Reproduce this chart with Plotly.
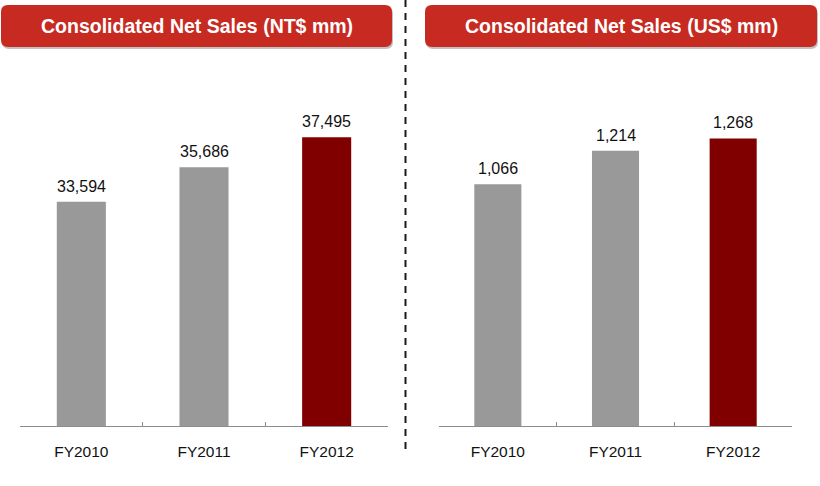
import plotly.graph_objects as go

categories = ["FY2010", "FY2011", "FY2012"]
ntd_values = [33594, 35686, 37495]
usd_values = [1066, 1214, 1268]
ntd_labels = ["33,594", "35,686", "37,495"]
usd_labels = ["1,066", "1,214", "1,268"]
bar_colors = ["#999999", "#999999", "#800000"]
titles = ["Consolidated Net Sales (NT$ mm)", "Consolidated Net Sales (US$ mm)"]

W, H = 820, 486
FONT = "Liberation Sans, Arial, sans-serif"

def px_x(p):
    return p / W

def px_y(p):
    return 1 - p / H

fig = go.Figure()
fig.add_trace(go.Bar(x=categories, y=ntd_values, marker_color=bar_colors,
                     marker_line_width=0, xaxis="x", yaxis="y",
                     hoverinfo="skip"))
fig.add_trace(go.Bar(x=categories, y=usd_values, marker_color=bar_colors,
                     marker_line_width=0, xaxis="x2", yaxis="y2",
                     hoverinfo="skip"))

annotations = []
for c, v, t in zip(categories, ntd_values, ntd_labels):
    annotations.append(dict(x=c, y=v, xref="x", yref="y", text=t, showarrow=False,
                            yanchor="bottom", yshift=5,
                            font=dict(family=FONT, size=16, color="#111111")))
for c, v, t in zip(categories, usd_values, usd_labels):
    annotations.append(dict(x=c, y=v, xref="x2", yref="y2", text=t, showarrow=False,
                            yanchor="bottom", yshift=5,
                            font=dict(family=FONT, size=16, color="#111111")))

def rounded_path(x0, y0, x1, y1, r=7):
    # pixel coords -> paper path with rounded corners
    X = lambda p: f"{px_x(p):.5f}"
    Y = lambda p: f"{px_y(p):.5f}"
    return (f"M {X(x0 + r)},{Y(y0)} L {X(x1 - r)},{Y(y0)} "
            f"Q {X(x1)},{Y(y0)} {X(x1)},{Y(y0 + r)} "
            f"L {X(x1)},{Y(y1 - r)} Q {X(x1)},{Y(y1)} {X(x1 - r)},{Y(y1)} "
            f"L {X(x0 + r)},{Y(y1)} Q {X(x0)},{Y(y1)} {X(x0)},{Y(y1 - r)} "
            f"L {X(x0)},{Y(y0 + r)} Q {X(x0)},{Y(y0)} {X(x0 + r)},{Y(y0)} Z")

shapes = []
boxes = [(1, 5, 392, 47), (425, 5, 817, 47)]
for (x0, y0, x1, y1), title in zip(boxes, titles):
    shapes.append(dict(type="path", xref="paper", yref="paper",
                       path=rounded_path(x0 + 1, y0 + 2, x1 + 1, y1 + 2),
                       fillcolor="rgba(120,120,120,0.45)", line=dict(width=0), layer="above"))
    shapes.append(dict(type="path", xref="paper", yref="paper",
                       path=rounded_path(x0, y0, x1, y1),
                       fillcolor="#c72a21", line=dict(width=0), layer="above"))
    annotations.append(dict(x=px_x((x0 + x1) / 2), y=px_y((y0 + y1) / 2),
                            xref="paper", yref="paper", text=f"<b>{title}</b>",
                            showarrow=False, xanchor="center", yanchor="middle",
                            font=dict(family=FONT, size=19.5, color="white")))

shapes.append(dict(type="line", xref="paper", yref="paper",
                   x0=px_x(405.5), x1=px_x(405.5), y0=px_y(0), y1=px_y(454),
                   line=dict(color="#1a1a1a", width=2, dash="7px,6px")))

ybot, ytop = 426, 60
ydom = [px_y(ybot), px_y(ytop)]
axis_common = dict(showline=True, linecolor="#8c8c8c", linewidth=1,
                   ticks="inside", ticklen=4, tickcolor="#8c8c8c",
                   tickson="boundaries", showgrid=False, zeroline=False,
                   tickfont=dict(family=FONT, size=15.5, color="#111111"),
                   ticklabelstandoff=11, fixedrange=True)

fig.update_layout(
    width=W, height=H,
    margin=dict(l=0, r=0, t=0, b=0),
    paper_bgcolor="white", plot_bgcolor="rgba(0,0,0,0)",
    showlegend=False, bargap=0.6,
    xaxis=dict(domain=[px_x(20), px_x(388)], anchor="y", **axis_common),
    xaxis2=dict(domain=[px_x(439), px_x(792)], anchor="y2", **axis_common),
    yaxis=dict(domain=ydom, range=[20000, 20000 + 366 * 60.6], visible=False, fixedrange=True),
    yaxis2=dict(domain=ydom, range=[0, 366 * 4.41], visible=False, fixedrange=True),
    shapes=shapes, annotations=annotations,
)

fig.write_html("out.html")
